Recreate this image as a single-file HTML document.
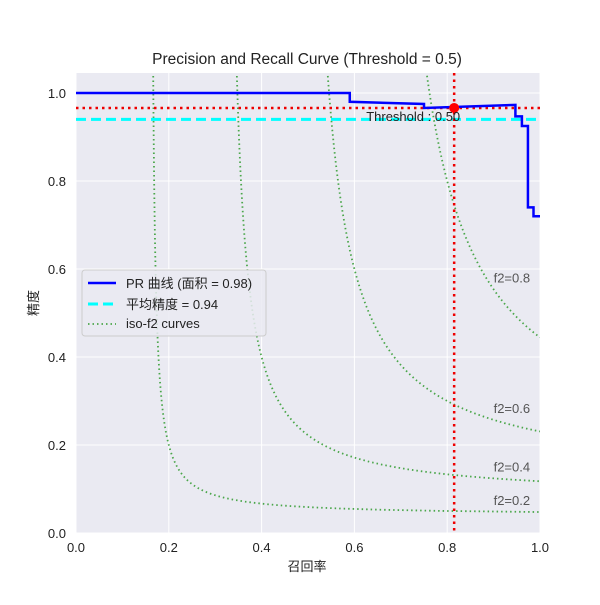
<!DOCTYPE html>
<html><head><meta charset="utf-8"><style>
body{margin:0;background:#fff;}
svg text{font-family:"Liberation Sans","Noto Sans CJK SC",sans-serif;}
</style></head><body>
<svg id="chart" width="600" height="600"></svg>
<script>
const recallPts=[0,0.590,0.590,0.750,0.750,0.947,0.947,0.961,0.961,0.974,0.974,0.986,0.986,1.0];
const precisionPts=[1.0,1.0,0.98,0.975,0.966,0.973,0.947,0.947,0.925,0.925,0.74,0.74,0.72,0.72];
const avgPrecision=[0.94];
const thresholdPoint=[0.815,0.966];
const f2Scores=[0.2,0.4,0.6,0.8];
const xTicks=[0,0.2,0.4,0.6,0.8,1.0];
const yTicks=[0,0.2,0.4,0.6,0.8,1.0];

const NS="http://www.w3.org/2000/svg";
const svg=document.getElementById('chart');
const L=76,R=540,T=73,B=533;
const X=v=>L+v*(R-L);
const Y=v=>B-v*440;
function el(t,a,p){const e=document.createElementNS(NS,t);for(const k in a)e.setAttribute(k,a[k]);(p||svg).appendChild(e);return e;}

let bg=el('rect',{x:L,y:T,width:R-L,height:B-T,fill:'#eaeaf2'});


const defs=el('defs',{});
const cp=el('clipPath',{id:'clip'},defs);el('rect',{x:L,y:T,width:R-L,height:B-T},cp);

xTicks.forEach(t=>{
  let g=el('line',{x1:X(t),x2:X(t),y1:T,y2:B,stroke:'#fff','stroke-width':1});
  
  
  let tx=el('text',{x:X(t),y:B+19,'text-anchor':'middle','font-size':13,fill:'#222'});tx.textContent=t.toFixed(1);
  
  
});
yTicks.forEach(t=>{
  let g=el('line',{x1:L,x2:R,y1:Y(t),y2:Y(t),stroke:'#fff','stroke-width':1});
  
  
  let tx=el('text',{x:L-10,y:Y(t)+5,'text-anchor':'end','font-size':13,fill:'#222'});tx.textContent=t.toFixed(1);
  
  
});

const plot=el('g',{'clip-path':'url(#clip)'});
f2Scores.forEach(f=>{
  let pts=[];
  const pEnd=f/(5-4*f);
  for(let i=0;i<=400;i++){const p=1.1-(1.1-pEnd)*i/400;const d=5*p-f;if(d<=0)continue;const r=4*f*p/d;if(r>1||r<0)continue;pts.push(X(r)+','+Y(p));}
  pts.push(X(1)+','+Y(pEnd));
  let c=el('polyline',{points:pts.join(' '),fill:'none',stroke:'#4aa64a','stroke-width':1.8,'stroke-dasharray':'1.5,3'},plot);
  
  
  const pv=f*0.9/(4.5-4*f)+0.02;
  let lb=el('text',{x:X(0.9),y:Y(pv)+2,'font-size':13,fill:'#555'});lb.textContent='f2='+f;
  
  
});
let hl=el('line',{x1:L,x2:R,y1:Y(thresholdPoint[1]),y2:Y(thresholdPoint[1]),stroke:'#e00','stroke-width':2.5,'stroke-dasharray':'2.5,4'},plot);


let ap=el('line',{x1:L,x2:R,y1:Y(avgPrecision[0]),y2:Y(avgPrecision[0]),stroke:'#00ffff','stroke-width':3,'stroke-dasharray':'10,5'},plot);


let pr=el('polyline',{points:recallPts.map((r,i)=>X(r)+','+Y(precisionPts[i])).join(' '),fill:'none',stroke:'#0000ff','stroke-width':2.5},plot);


let vl=el('line',{x1:X(thresholdPoint[0]),x2:X(thresholdPoint[0]),y1:T,y2:B,stroke:'#e00','stroke-width':2.5,'stroke-dasharray':'2.5,4'},plot);


let dot=el('circle',{cx:X(thresholdPoint[0]),cy:Y(thresholdPoint[1]),r:5,fill:'#f00'},plot);


let tl=el('text',{x:X(thresholdPoint[0])+6,y:Y(thresholdPoint[1])+13,'text-anchor':'end','font-size':13,fill:'#222'});tl.textContent='Threshold : 0.50';


</script>
<svg width="600" height="600" style="position:absolute;left:0;top:0">
<text x="307" y="64" text-anchor="middle" font-size="15.5" fill="#222">Precision and Recall Curve (Threshold = 0.5)</text>
<text x="307" y="571" text-anchor="middle" font-size="13" fill="#222">召回率</text>
<text x="38" y="303" text-anchor="middle" font-size="13" fill="#222" transform="rotate(-90 38 303)">精度</text>
<g>
<rect x="82" y="270" width="184" height="66" rx="3" fill="#eaeaf2" fill-opacity="0.85" stroke="#ccc"/>
<line x1="88" x2="116" y1="283" y2="283" stroke="#00f" stroke-width="2.5"/>
<text x="126" y="288" font-size="13" fill="#222">PR 曲线 (面积 = 0.98)</text>
<line x1="88" x2="116" y1="304" y2="304" stroke="#0ff" stroke-width="3" stroke-dasharray="10,5"/>
<text x="126" y="309" font-size="13" fill="#222">平均精度 = 0.94</text>
<line x1="88" x2="116" y1="324" y2="324" stroke="#4aa64a" stroke-width="1.8" stroke-dasharray="1.5,3"/>
<text x="126" y="328" font-size="13" fill="#222">iso-f2 curves</text>
</g>
</svg>
</body></html>
